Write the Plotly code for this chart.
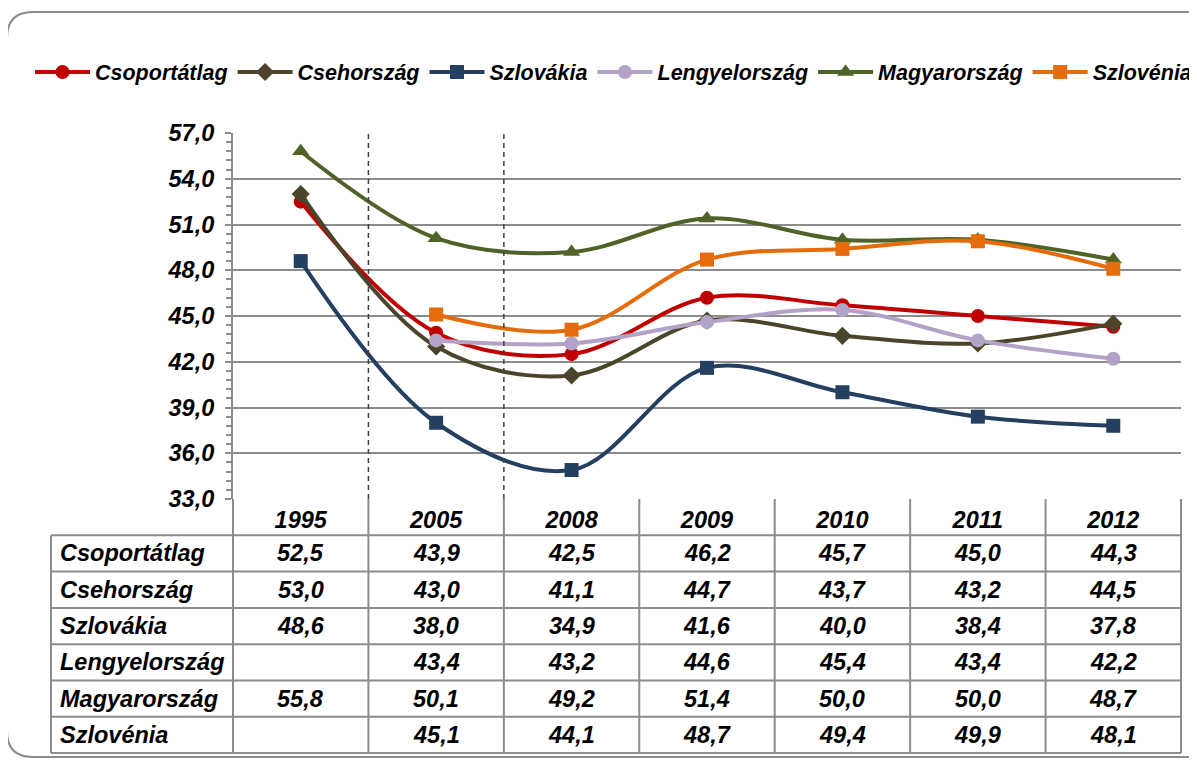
import plotly.graph_objects as go

# data
years = ["1995", "2005", "2008", "2009", "2010", "2011", "2012"]
series_names = ["Csoportátlag", "Csehország", "Szlovákia", "Lengyelország", "Magyarország", "Szlovénia"]
csoportatlag = [52.5, 43.9, 42.5, 46.2, 45.7, 45.0, 44.3]
csehorszag = [53.0, 43.0, 41.1, 44.7, 43.7, 43.2, 44.5]
szlovakia = [48.6, 38.0, 34.9, 41.6, 40.0, 38.4, 37.8]
lengyelorszag = [None, 43.4, 43.2, 44.6, 45.4, 43.4, 42.2]
magyarorszag = [55.8, 50.1, 49.2, 51.4, 50.0, 50.0, 48.7]
szlovenia = [None, 45.1, 44.1, 48.7, 49.4, 49.9, 48.1]
all_values = [csoportatlag, csehorszag, szlovakia, lengyelorszag, magyarorszag, szlovenia]

colors = ["#C00000", "#4A452A", "#243F60", "#B3A2C7", "#4F6228", "#E46C0A"]
symbols = ["circle", "diamond", "square", "circle", "triangle-up", "square"]
marker_sizes = [14, 14, 14, 14, 15, 14]

# page geometry in screen pixels; the page body adds an 8px margin
OFF = 8
W, H = 1197 - OFF, 760 - OFF
L, R, T, B = 233, 1181, 133, 499
ROW_H = 36.3
GRID = "#8C8C8C"
FONT = dict(family="Liberation Sans, Arial, sans-serif", size=23.5, color="black",
            weight="bold", style="italic")


def xp(px):
    return (px - L) / (R - L)


def yp(py):
    return (B - py) / (B - T)


xs = list(range(len(years)))

fig = go.Figure()
for name, vals, col, sym, ms in zip(series_names, all_values, colors, symbols, marker_sizes):
    fig.add_trace(go.Scatter(
        x=xs, y=vals, name=name, mode="lines+markers",
        line=dict(color=col, width=4, shape="spline", smoothing=1.0),
        marker=dict(symbol=sym, size=ms, color=col),
        connectgaps=False, cliponaxis=False,
    ))

shapes = []
# dashed separators between the first columns
for xv in (0.5, 1.5):
    shapes.append(dict(type="line", xref="x", yref="paper", x0=xv, x1=xv, y0=0, y1=1,
                       line=dict(color="#404040", width=1.5, dash="5px,4px")))

# data table grid
n_rows = len(series_names) + 1
tbl_bottom = B + n_rows * ROW_H
for j in range(len(years) + 1):
    shapes.append(dict(type="line", xref="paper", yref="paper", x0=j / len(years), x1=j / len(years),
                       y0=0, y1=yp(tbl_bottom), line=dict(color=GRID, width=2)))
shapes.append(dict(type="line", xref="paper", yref="paper", x0=xp(51), x1=xp(51),
                   y0=yp(B + ROW_H), y1=yp(tbl_bottom), line=dict(color=GRID, width=2)))
for i in range(1, n_rows + 1):
    shapes.append(dict(type="line", xref="paper", yref="paper", x0=xp(51), x1=1,
                       y0=yp(B + i * ROW_H), y1=yp(B + i * ROW_H), line=dict(color=GRID, width=2)))

# rounded outer frame
fx0, fx1, fy0, fy1, rad = 7, 1215, 12, 757, 26
rx, ry = rad / (R - L), rad / (B - T)
frame = (f"M {xp(fx1)},{yp(fy0)} L {xp(fx0) + rx},{yp(fy0)} "
         f"Q {xp(fx0)},{yp(fy0)} {xp(fx0)},{yp(fy0) - ry} "
         f"L {xp(fx0)},{yp(fy1) + ry} Q {xp(fx0)},{yp(fy1)} {xp(fx0) + rx},{yp(fy1)} "
         f"L {xp(fx1)},{yp(fy1)}")
shapes.append(dict(type="path", xref="paper", yref="paper", path=frame,
                   line=dict(color="#8C8C8C", width=2)))

annotations = []
for i, (name, vals) in enumerate(zip(series_names, all_values)):
    yc = yp(B + (i + 1.5) * ROW_H)
    annotations.append(dict(xref="paper", yref="paper", x=xp(58), y=yc, text=name,
                            showarrow=False, xanchor="left", yanchor="middle", font=FONT))
    for j, v in enumerate(vals):
        if v is None:
            continue
        annotations.append(dict(xref="x", yref="paper", x=j, y=yc,
                                text=f"{v:.1f}".replace(".", ","),
                                showarrow=False, xanchor="center", yanchor="middle", font=FONT))

fig.update_layout(
    width=W, height=H,
    margin=dict(l=L - OFF, r=W + OFF - R, t=T - OFF, b=H + OFF - B),
    paper_bgcolor="white", plot_bgcolor="white",
    separators=", ",
    font=FONT,
    showlegend=True,
    legend=dict(orientation="h", x=xp(33), y=yp(72), xanchor="left", yanchor="middle",
                font=dict(FONT, size=21.5), itemwidth=55, bgcolor="rgba(0,0,0,0)"),
    xaxis=dict(range=[-0.5, len(years) - 0.5], tickvals=xs, ticktext=years,
               showgrid=False, zeroline=False, showline=False, ticks="",
               ticklabelstandoff=4, tickfont=FONT),
    yaxis=dict(range=[33, 57], dtick=3, tick0=33, tickformat=".1f",
               showgrid=True, gridcolor=GRID, gridwidth=2, zeroline=False,
               showline=True, linecolor=GRID, linewidth=2,
               ticks="outside", ticklen=6, tickcolor=GRID, tickwidth=2,
               minor=dict(dtick=0.6, ticks="outside", ticklen=5, tickcolor=GRID, tickwidth=1.5),
               ticklabelstandoff=6, tickfont=FONT),
    yaxis2=dict(range=[33, 57], overlaying="y", side="left", showticklabels=False,
                showgrid=False, zeroline=False, ticks="",
                minor=dict(dtick=0.6, ticks="inside", ticklen=6, tickcolor=GRID, tickwidth=1.5)),
    shapes=shapes,
    annotations=annotations,
)

fig.write_html("out.html")
